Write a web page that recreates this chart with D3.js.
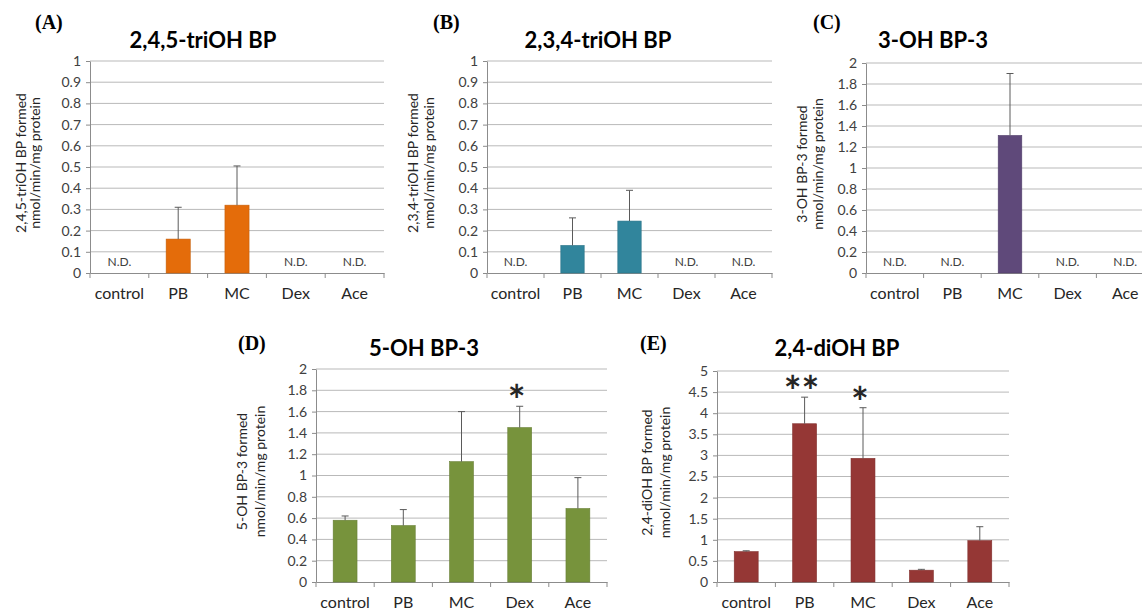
<!DOCTYPE html>
<html>
<head>
<meta charset="utf-8">
<script src="https://cdn.jsdelivr.net/npm/d3@7"></script>
<style>
  body { margin: 0; background: #fff; }
  svg { display: block; }
</style>
</head>
<body>
<svg></svg>
<script>
// Data (null = N.D.)
const categories = ["control", "PB", "MC", "Dex", "Ace"];

const meanA = [null, 0.16, 0.32, null, null];
const errA  = [null, 0.15, 0.185, null, null];
const ticksA = [0, 0.1, 0.2, 0.3, 0.4, 0.5, 0.6, 0.7, 0.8, 0.9, 1];

const meanB = [null, 0.13, 0.245, null, null];
const errB  = [null, 0.13, 0.145, null, null];
const ticksB = [0, 0.1, 0.2, 0.3, 0.4, 0.5, 0.6, 0.7, 0.8, 0.9, 1];

const meanC = [null, null, 1.31, null, null];
const errC  = [null, null, 0.59, null, null];
const ticksC = [0, 0.2, 0.4, 0.6, 0.8, 1, 1.2, 1.4, 1.6, 1.8, 2];

const meanD = [0.58, 0.53, 1.13, 1.45, 0.69];
const errD  = [0.04, 0.15, 0.47, 0.2, 0.29];
const sigD  = ["", "", "", "*", ""];
const ticksD = [0, 0.2, 0.4, 0.6, 0.8, 1, 1.2, 1.4, 1.6, 1.8, 2];

const meanE = [0.72, 3.75, 2.93, 0.28, 0.98];
const errE  = [0.02, 0.63, 1.2, 0.02, 0.33];
const sigE  = ["", "**", "*", "", ""];
const ticksE = [0, 0.5, 1, 1.5, 2, 2.5, 3, 3.5, 4, 4.5, 5];

const width = 1142;
const height = 615;

const svg = d3.select("svg")
  .attr("width", width)
  .attr("height", height);

const font = "Lato, 'Open Sans', sans-serif";

// panel layout (positions only)
const panels = [
  { tag: "(A)", title: "2,4,5-triOH BP", ylab: ["2,4,5-triOH BP formed", "nmol/min/mg protein"],
    mean: meanA, err: errA, ticks: ticksA, sig: null, color: "#E46C0A",
    x: 90, y: 61, w: 294, h: 212, titleX: 203, titleY: 48, tagX: 35, tagY: 29, labOff: [-69, -55] },
  { tag: "(B)", title: "2,3,4-triOH BP", ylab: ["2,3,4-triOH BP formed", "nmol/min/mg protein"],
    mean: meanB, err: errB, ticks: ticksB, sig: null, color: "#31859C",
    x: 487, y: 61, w: 285, h: 212, titleX: 598, titleY: 48, tagX: 433, tagY: 29, labOff: [-74, -58] },
  { tag: "(C)", title: "3-OH BP-3", ylab: ["3-OH BP-3 formed", "nmol/min/mg protein"],
    mean: meanC, err: errC, ticks: ticksC, sig: null, color: "#5F497A",
    x: 866, y: 63, w: 288, h: 210, titleX: 933, titleY: 48, tagX: 813, tagY: 29, labOff: [-64, -48] },
  { tag: "(D)", title: "5-OH BP-3", ylab: ["5-OH BP-3 formed", "nmol/min/mg protein"],
    mean: meanD, err: errD, ticks: ticksD, sig: sigD, color: "#77933C",
    x: 316, y: 369, w: 291, h: 213, titleX: 424, titleY: 356, tagX: 238, tagY: 350, labOff: [-74, -56] },
  { tag: "(E)", title: "2,4-diOH BP", ylab: ["2,4-diOH BP formed", "nmol/min/mg protein"],
    mean: meanE, err: errE, ticks: ticksE, sig: sigE, color: "#953735",
    x: 717, y: 371, w: 292, h: 211, titleX: 837, titleY: 356, tagX: 640, tagY: 350, labOff: [-70, -52] }
];

panels.forEach(p => {
  const g = svg.append("g")
    .attr("transform", `translate(${p.x}, ${p.y})`);

  const x = d3.scaleBand()
    .domain(categories)
    .range([0, p.w])
    .padding(0);

  const y = d3.scaleLinear()
    .domain([0, p.ticks[p.ticks.length - 1]])
    .range([p.h, 0]);

  // gridlines
  g.append("g")
    .selectAll("line")
    .data(p.ticks.slice(1))
    .enter()
    .append("line")
    .attr("x1", 0)
    .attr("x2", p.w)
    .attr("y1", d => y(d))
    .attr("y2", d => y(d))
    .attr("stroke", "#b9b9b9")
    .attr("stroke-width", 1);

  // y axis
  const yAxis = g.append("g")
    .call(d3.axisLeft(y).tickValues(p.ticks).tickSize(4).tickPadding(5).tickSizeOuter(0)
      .tickFormat(d => d3.format("~g")(d)));
  yAxis.select(".domain").attr("stroke", "#8c8c8c");
  yAxis.selectAll(".tick line").attr("stroke", "#8c8c8c");
  yAxis.selectAll("text")
    .style("font-family", font)
    .style("font-size", "14px")
    .attr("fill", "#404040");

  // x axis: labels at band centres, ticks at band edges
  const xAxis = g.append("g")
    .attr("transform", `translate(0, ${p.h})`)
    .call(d3.axisBottom(x).tickSize(0).tickPadding(15).tickSizeOuter(0));
  xAxis.select(".domain").attr("stroke", "#8c8c8c");
  xAxis.selectAll("text")
    .style("font-family", font)
    .style("font-size", "16px")
    .attr("fill", "#262626");

  g.append("g")
    .selectAll("line")
    .data(categories.map(c => x(c)).concat([p.w]))
    .enter()
    .append("line")
    .attr("x1", d => d)
    .attr("x2", d => d)
    .attr("y1", p.h)
    .attr("y2", p.h + 5)
    .attr("stroke", "#8c8c8c");

  const rows = categories.map((c, i) => ({ cat: c, v: p.mean[i], e: p.err[i], s: p.sig ? p.sig[i] : "" }));
  const barW = x.bandwidth() * 0.41;

  // bars
  g.selectAll(".bar")
    .data(rows.filter(d => d.v !== null))
    .enter()
    .append("rect")
    .attr("class", "bar")
    .attr("x", d => x(d.cat) + (x.bandwidth() - barW) / 2)
    .attr("y", d => y(d.v))
    .attr("width", barW)
    .attr("height", d => p.h - y(d.v))
    .attr("fill", p.color)
    .attr("stroke", d3.color(p.color).darker(0.4))
    .attr("stroke-width", 0.6);

  // error bars (upper only)
  const eb = g.selectAll(".err")
    .data(rows.filter(d => d.v !== null))
    .enter()
    .append("g")
    .attr("class", "err")
    .attr("stroke", "#5a5a5a")
    .attr("stroke-width", 1);
  eb.append("line")
    .attr("x1", d => x(d.cat) + x.bandwidth() / 2)
    .attr("x2", d => x(d.cat) + x.bandwidth() / 2)
    .attr("y1", d => y(d.v))
    .attr("y2", d => y(d.v + d.e));
  eb.append("line")
    .attr("x1", d => x(d.cat) + x.bandwidth() / 2 - 3.5)
    .attr("x2", d => x(d.cat) + x.bandwidth() / 2 + 3.5)
    .attr("y1", d => y(d.v + d.e))
    .attr("y2", d => y(d.v + d.e));

  // N.D. labels
  g.selectAll(".nd")
    .data(rows.filter(d => d.v === null))
    .enter()
    .append("text")
    .attr("class", "nd")
    .attr("x", d => x(d.cat) + x.bandwidth() / 2)
    .attr("y", p.h - 7)
    .attr("text-anchor", "middle")
    .style("font-family", font)
    .style("font-size", "12px")
    .attr("fill", "#404040")
    .text("N.D.");

  // significance marks
  g.selectAll(".sig")
    .data(rows.filter(d => d.s))
    .enter()
    .append("text")
    .attr("class", "sig")
    .attr("x", d => x(d.cat) + x.bandwidth() / 2 - 3)
    .attr("y", d => y(d.v + d.e) + 10)
    .attr("text-anchor", "middle")
    .style("font-family", font)
    .style("font-size", "42px")
    .style("font-weight", "bold")
    .attr("fill", "#262626")
    .text(d => d.s);

  // y axis title (two lines)
  p.ylab.forEach((t, i) => {
    svg.append("text")
      .attr("transform", `translate(${p.x + p.labOff[i]}, ${p.y + p.h / 2 - 4}) rotate(-90)`)
      .attr("text-anchor", "middle")
      .attr("dy", "0.35em")
      .style("font-family", font)
      .style("font-size", "14px")
      .attr("fill", "#262626")
      .text(t);
  });

  // chart title
  svg.append("text")
    .attr("x", p.titleX)
    .attr("y", p.titleY)
    .attr("text-anchor", "middle")
    .style("font-family", font)
    .style("font-size", "22px")
    .style("font-weight", "bold")
    .attr("fill", "#000")
    .text(p.title);

  // panel letter
  svg.append("text")
    .attr("x", p.tagX)
    .attr("y", p.tagY)
    .style("font-family", "'Liberation Serif', 'DejaVu Serif', serif")
    .style("font-size", "20px")
    .style("font-weight", "bold")
    .attr("fill", "#000")
    .text(p.tag);
});
</script>
</body>
</html>
